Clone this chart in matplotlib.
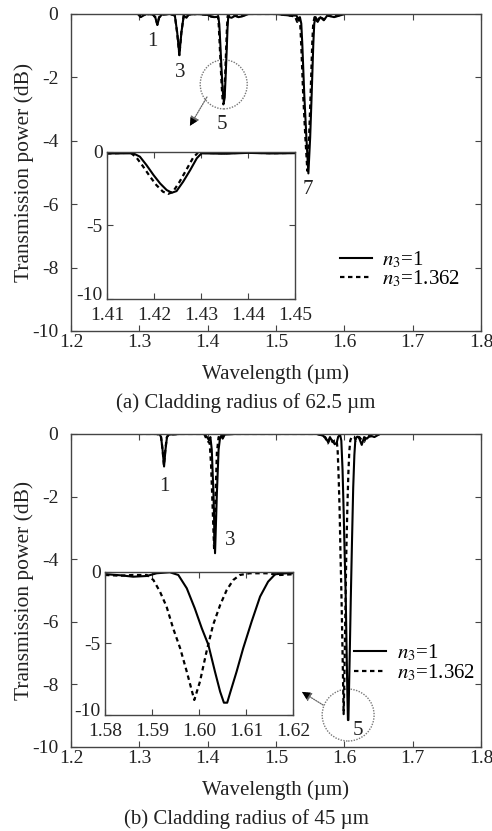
import matplotlib.pyplot as plt
from matplotlib.patches import Ellipse
from matplotlib.transforms import ScaledTranslation

plt.rcParams['font.family'] = ['Liberation Serif', 'DejaVu Serif']
plt.rcParams['mathtext.fontset'] = 'stix'
plt.rcParams['axes.unicode_minus'] = False

# ---- (a) cladding radius 62.5 um ----
# mode 5 region (1.41-1.45 um)
a5_wl = [1.410, 1.4156, 1.4170, 1.4184, 1.4199, 1.4213, 1.4227, 1.4238, 1.4248,
         1.4262, 1.4277, 1.4291, 1.4301, 1.435, 1.440, 1.445, 1.450]
a5_solid = [-0.10, -0.09, -0.32, -0.89, -1.57, -2.14, -2.59, -2.77, -2.66,
            -2.02, -1.23, -0.43, -0.09, -0.12, -0.06, -0.10, -0.08]
a5_dash_wl = [1.410, 1.4150, 1.4162, 1.4176, 1.4191, 1.4205, 1.4219, 1.4230, 1.4240,
              1.4254, 1.4269, 1.4283, 1.4293, 1.435, 1.440, 1.445, 1.450]
a5_dash = [-0.10, -0.05, -0.35, -0.95, -1.65, -2.25, -2.70, -2.85, -2.72,
           -2.05, -1.20, -0.40, -0.06, -0.08, -0.05, -0.08, -0.06]

# modes 1 and 3 (before the inset window)
a13_wl = [1.298, 1.302, 1.310, 1.320, 1.3235, 1.3264, 1.3290, 1.333, 1.345,
          1.352, 1.3555, 1.3586, 1.3615, 1.365, 1.369, 1.372, 1.385, 1.400, 1.405]
a13_solid = [0.0, -0.10, 0.0, -0.02, -0.12, -0.35, -0.12, -0.02, 0.0,
             -0.05, -0.60, -1.29, -0.60, -0.05, -0.12, -0.02, 0.0, -0.03, -0.08]
a13_dash = [0.0, -0.08, 0.0, -0.02, -0.10, -0.33, -0.10, -0.02, 0.0,
            -0.05, -0.62, -1.30, -0.58, -0.05, -0.10, -0.02, 0.0, -0.03, -0.08]

# mode 7 (after the inset window)
a7_wl = [1.460, 1.500, 1.520, 1.530, 1.533, 1.535, 1.537, 1.5385, 1.5414, 1.5445,
         1.5474, 1.5500, 1.5522, 1.5546, 1.556, 1.558, 1.561, 1.565, 1.570,
         1.575, 1.585, 1.598]
a7_solid = [0.0, 0.0, -0.05, -0.05, -0.20, -0.10, -0.30, -0.95, -2.55, -3.90,
            -5.03, -3.90, -2.55, -0.95, -0.30, -0.10, -0.25, -0.10, -0.20,
            -0.05, -0.10, -0.02]
a7_dash_wl = [1.460, 1.500, 1.520, 1.528, 1.531, 1.5335, 1.5355, 1.5370, 1.5399, 1.5430,
              1.5459, 1.5485, 1.5507, 1.5531, 1.5545, 1.5565, 1.560, 1.565, 1.570,
              1.575, 1.585, 1.598]
a7_dash = [0.0, 0.0, -0.05, -0.08, -0.25, -0.12, -0.35, -1.00, -2.60, -3.90,
           -4.95, -3.85, -2.50, -0.90, -0.30, -0.10, -0.22, -0.08, -0.18,
           -0.05, -0.08, -0.02]

# ---- (b) cladding radius 45 um ----
# mode 5 region (1.58-1.62 um)
b5_wl = [1.5804, 1.5832, 1.5860, 1.5889, 1.5910, 1.5938, 1.5956, 1.5974, 1.5991,
         1.6006, 1.6020, 1.6034, 1.6045, 1.6053, 1.6060, 1.6067, 1.6080, 1.6094,
         1.6112, 1.6130, 1.6147, 1.6162, 1.6186, 1.6200]
b5_solid = [-0.16, -0.23, -0.33, -0.28, -0.09, -0.02, -0.21, -1.14, -2.54,
            -3.94, -5.10, -6.97, -8.37, -9.14, -9.14, -8.37, -6.97, -5.34,
            -3.47, -1.72, -0.68, -0.16, -0.09, -0.09]
b5_dash_wl = [1.5800, 1.5832, 1.5860, 1.5889, 1.5903, 1.5917, 1.5931, 1.5945, 1.5960,
              1.5974, 1.5990, 1.6002, 1.6016, 1.6030, 1.6045, 1.6059, 1.6073, 1.6087,
              1.6108, 1.6144, 1.6172, 1.6200]
b5_dash = [-0.21, -0.26, -0.21, -0.21, -0.56, -1.38, -2.42, -3.94, -5.34,
           -6.97, -8.95, -7.67, -5.57, -3.70, -2.31, -1.26, -0.56, -0.21,
           -0.09, -0.09, -0.21, -0.16]

# modes 1 and 3
b13_wl = [1.298, 1.310, 1.325, 1.330, 1.3318, 1.3340, 1.3362, 1.3383, 1.3405, 1.343,
          1.360, 1.380, 1.395, 1.399, 1.402, 1.404, 1.406, 1.4085, 1.4108, 1.4135,
          1.416, 1.418, 1.420, 1.422, 1.425, 1.440, 1.500, 1.540, 1.560]
b13_solid = [0.0, 0.0, 0.0, -0.02, -0.10, -0.50, -1.04, -0.50, -0.10, -0.02,
             0.0, 0.0, 0.0, -0.10, -0.20, -0.10, -0.50, -1.90, -3.81, -1.90,
             -0.50, -0.15, -0.05, -0.15, -0.02, 0.0, 0.0, 0.0, 0.0]
b13_dash_wl = [1.298, 1.310, 1.325, 1.330, 1.3318, 1.3340, 1.3360, 1.3381, 1.3403, 1.343,
               1.360, 1.380, 1.395, 1.398, 1.401, 1.403, 1.405, 1.4072, 1.4094, 1.4115,
               1.4135, 1.416, 1.420, 1.422, 1.425, 1.440, 1.500, 1.540, 1.560]
b13_dash = [0.0, 0.0, 0.0, -0.02, -0.10, -0.50, -1.00, -0.48, -0.10, -0.02,
            0.0, 0.0, 0.0, -0.15, -0.25, -0.30, -1.00, -2.30, -3.65, -2.00,
            -0.60, -0.10, -0.15, -0.05, 0.0, 0.0, 0.0, 0.0, 0.0]

b_pre_wl = [1.568, 1.572, 1.576, 1.579]
b_pre_solid = [-0.05, -0.10, -0.25, -0.10]
b_pre_dash = [-0.05, -0.12, -0.30, -0.15]
b_post_wl = [1.622, 1.6255, 1.629, 1.633, 1.638, 1.644, 1.652]
b_post_solid = [-0.15, -0.35, -0.10, -0.15, -0.05, -0.10, 0.0]
b_post_dash = [-0.10, -0.20, -0.25, -0.05, -0.08, -0.05, 0.0]

legend_labels = ['$n_3$=1', '$n_3$=1.362']
xticks = [1.2, 1.3, 1.4, 1.5, 1.6, 1.7, 1.8]
yticks = [0, -2, -4, -6, -8, -10]

DASH = (0, (2.0, 1.6))
INK = '#222222'


def style(ax, fs=14, xpad=2, ypad=2):
    for s in ax.spines.values():
        s.set_color('#444444')
        s.set_linewidth(1.0)
    ax.tick_params(direction='in', top=True, right=True, labelsize=fs,
                   colors='#444444', labelcolor=INK, length=4)
    ax.tick_params(axis='x', pad=xpad)
    ax.tick_params(axis='y', pad=ypad)


fig = plt.figure(figsize=(4.92, 8.31), dpi=100)

panels = [
    dict(rect=[0.1443, 0.6017, 0.8333, 0.3815],
         wl=a13_wl + a5_wl + a7_wl, solid=a13_solid + a5_solid + a7_solid,
         dwl=a13_wl + a5_dash_wl + a7_dash_wl, dash=a13_dash + a5_dash + a7_dash,
         iwl=a5_wl, isolid=a5_solid, idwl=a5_dash_wl, idash=a5_dash,
         inset=[0.2175, 0.6402, 0.3821, 0.1769], ixlim=(1.41, 1.45),
         ixticks=[1.41, 1.42, 1.43, 1.44, 1.45], ixfmt='%.2f',
         labels=[('1', 1.3186, -0.88), ('3', 1.3596, -1.86), ('5', 1.421, -3.5), ('7', 1.547, -5.55)],
         circle=(1.4235, -2.22, 0.0688, 1.55), arrow=((1.399, -2.62), (1.374, -3.53)),
         leg=(0.655, 0.258), caption='(a) Cladding radius of 62.5 \u00b5m', cap_y=1 - 403 / 831),
    dict(rect=[0.1443, 0.1011, 0.8333, 0.3767],
         wl=b13_wl + b_pre_wl + b5_wl + b_post_wl,
         solid=b13_solid + b_pre_solid + b5_solid + b_post_solid,
         dwl=b13_dash_wl + b_pre_wl + b5_dash_wl + b_post_wl,
         dash=b13_dash + b_pre_dash + b5_dash + b_post_dash,
         iwl=b5_wl, isolid=b5_solid, idwl=b5_dash_wl, idash=b5_dash,
         inset=[0.2134, 0.1396, 0.3821, 0.1721], ixlim=(1.58, 1.62),
         ixticks=[1.58, 1.59, 1.60, 1.61, 1.62], ixfmt='%.2f',
         labels=[('1', 1.336, -1.69), ('3', 1.433, -3.39), ('5', 1.620, -9.46)],
         circle=(1.6056, -8.98, 0.076, 1.66), arrow=((1.569, -8.66), (1.538, -8.24)),
         leg=(0.690, 0.333), caption='(b) Cladding radius of 45 \u00b5m', cap_y=1 - 819 / 831),
]

for p in panels:
    ax = fig.add_axes(p['rect'])
    h1, = ax.plot(p['wl'], p['solid'], color='black', lw=1.5)
    h2, = ax.plot(p['dwl'], p['dash'], color='black', lw=1.6, linestyle=DASH)
    ax.set_xlim(1.2, 1.8)
    ax.set_ylim(-10, 0)
    ax.set_xticks(xticks)
    ax.set_yticks(yticks)
    ax.set_xticklabels(['%.1f' % v for v in xticks])
    ax.set_yticklabels(['%d' % v for v in yticks])
    style(ax, xpad=2, ypad=9)
    ax.set_xlabel('Wavelength (\u00b5m)', fontsize=15, color=INK, labelpad=10)
    ax.set_ylabel('Transmission power (dB)', fontsize=15.5, color=INK, labelpad=-1)
    for txt, x, y in p['labels']:
        ax.text(x, y, txt, fontsize=15, color=INK, ha='center', va='center')
    cx, cy, cw, ch = p['circle']
    ax.add_patch(Ellipse((cx, cy), cw, ch, fill=False, ec='#777777', lw=1.0, ls=(0, (1, 1))))
    ax.annotate('', xy=p['arrow'][1], xytext=p['arrow'][0],
                arrowprops=dict(arrowstyle='-|>', color='#666666', lw=0.9, ls=(0, (1, 1)),
                                mutation_scale=14, shrinkA=0, shrinkB=0))
    ax.annotate('', xy=p['arrow'][1], xytext=p['arrow'][0],
                arrowprops=dict(arrowstyle='-|>', color='black', lw=0.0,
                                mutation_scale=14, shrinkA=0, shrinkB=0))
    ax.legend([h1, h2], legend_labels, loc='upper left', bbox_to_anchor=p['leg'],
              frameon=False, fontsize=15, handlelength=1.55, handletextpad=0.5,
              labelspacing=-0.05, borderpad=0, borderaxespad=0)

    ins = fig.add_axes(p['inset'])
    ins.plot(p['iwl'], p['isolid'], color='black', lw=1.5)
    ins.plot(p['idwl'], p['idash'], color='black', lw=1.6, linestyle=DASH)
    ins.set_xlim(*p['ixlim'])
    ins.set_ylim(-10, 0)
    ins.set_xticks(p['ixticks'])
    ins.set_xticklabels([p['ixfmt'] % v for v in p['ixticks']])
    ins.set_yticks([0, -5, -10])
    ins.set_yticklabels(['0', '-5', '-10'])
    style(ins, xpad=6, ypad=3)
    # lift the bottom inset label a little so it clears the x tick labels
    low = ins.get_yticklabels()[-1]
    low.set_transform(low.get_transform() + ScaledTranslation(0, 4 / 72, fig.dpi_scale_trans))

    fig.text(0.5, p['cap_y'], p['caption'], fontsize=15, color=INK, ha='center', va='center')

fig.savefig('out.png', dpi=100)
